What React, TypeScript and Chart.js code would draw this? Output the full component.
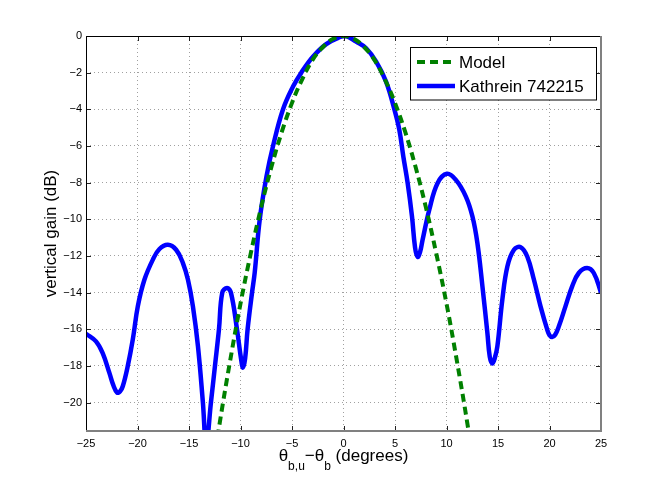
import React, { useEffect, useRef } from "react";
import { Chart, ChartConfiguration, Plugin, registerables } from "chart.js";

Chart.register(...registerables);

// model pattern (dB)
const modelAngles = [-13, -12, -11, -10, -9, -8, -7, -6, -5, -4, -3, -2, -1, 0, 1, 2, 3, 4, 5, 6, 7, 8, 9, 10, 11, 12, 13];
const modelGain = [
  -24.7, -21.05, -17.7, -14.6, -11.85, -9.35, -7.15, -5.25, -3.65, -2.35, -1.3, -0.6, -0.15, 0,
  -0.15, -0.6, -1.3, -2.35, -3.65, -5.25, -7.15, -9.35, -11.85, -14.6, -17.7, -21.05, -24.7,
];

// measured antenna pattern (dB)
const kathreinAngles = [
  -25, -24.03, -23.38, -22.73, -22.35, -21.98, -21.7, -21.43, -20.95, -20.46, -19.97, -19.33,
  -18.51, -17.87, -17.05, -16.25, -15.59, -15.1, -14.62, -14.13, -13.65, -13.33, -12.87, -12.48,
  -12.09, -11.77, -11.31, -10.93, -10.34, -9.95, -9.76, -9.55, -9.31, -8.88, -8.62, -8.13, -7.48,
  -6.84, -5.87, -4.9, -4.1, -2.97, -1.68, -0.39, 0.26, 1.23, 2.2, 3.17, 4.13, 4.94, 5.42, 5.81,
  6.23, 6.65, 6.95, 7.2, 7.45, 7.68, 8.33, 9.13, 10.04, 10.91, 11.88, 12.52, 13.0, 13.49, 13.97,
  14.2, 14.45, 14.7, 14.94, 15.42, 15.91, 16.55, 17.2, 17.84, 18.49, 19.13, 19.78, 20.0, 20.26,
  20.55, 20.91, 21.55, 22.2, 22.84, 23.65, 24.3, 25,
];
const kathreinGain = [
  -16.24, -16.66, -17.3, -18.38, -19.05, -19.45, -19.4, -19.11, -18.02, -16.57, -14.75, -13.3,
  -12.2, -11.62, -11.39, -11.66, -12.39, -13.3, -14.75, -16.93, -20.0, -22.3, -20.0, -18.0,
  -16.0, -14.0, -13.75, -14.0, -16.0, -17.6, -18.1, -17.6, -16.0, -14.0, -12.9, -10.0, -7.67,
  -6.0, -4.0, -2.76, -2.0, -1.13, -0.44, -0.07, 0, -0.31, -0.67, -1.4, -2.49, -4.0, -5.12, -6.58,
  -8.03, -9.85, -11.55, -12.05, -11.75, -11.12, -9.48, -8.03, -7.52, -7.85, -8.76, -9.85, -11.3, -13.66, -16.2,
  -17.5, -17.87, -17.55, -16.93, -14.39, -12.57, -11.66, -11.52, -12.03, -13.3, -14.75, -16.02, -16.32, -16.42,
  -16.3, -15.84, -14.75, -13.66, -12.93, -12.66, -12.93, -14.0,
];

const xTicks = [-25, -20, -15, -10, -5, 0, 5, 10, 15, 20, 25];
const yTicks = [0, -2, -4, -6, -8, -10, -12, -14, -16, -18, -20];
const seriesLabels = ["Model", "Kathrein 742215"];

const FONT = "'Liberation Sans', Arial, sans-serif";
const minus = (v: number) => (v < 0 ? "\u2212" + Math.abs(v) : String(v));

// matlab-like box, inner ticks, legend and axis labels
const axesBox: Plugin = {
  id: "axesBox",
  afterDatasetsDraw(chart) {
    const { ctx, chartArea: a, scales } = chart;
    ctx.save();
    ctx.lineWidth = 1;
    ctx.strokeStyle = "#222";
    ctx.beginPath();
    xTicks.forEach((v) => {
      const px = Math.round(scales.x.getPixelForValue(v)) + 0.5;
      ctx.moveTo(px, a.bottom);
      ctx.lineTo(px, a.bottom - 5);
      ctx.moveTo(px, a.top);
      ctx.lineTo(px, a.top + 5);
    });
    yTicks.forEach((v) => {
      const py = Math.round(scales.y.getPixelForValue(v)) + 0.5;
      ctx.moveTo(a.left, py);
      ctx.lineTo(a.left + 5, py);
      ctx.moveTo(a.right, py);
      ctx.lineTo(a.right - 5, py);
    });
    ctx.stroke();

    ctx.strokeStyle = "#000";
    ctx.beginPath();
    ctx.moveTo(a.left + 0.5, a.bottom);
    ctx.lineTo(a.left + 0.5, a.top + 0.5);
    ctx.lineTo(a.right, a.top + 0.5);
    ctx.stroke();
    ctx.strokeStyle = "#808080";
    ctx.lineWidth = 2;
    ctx.beginPath();
    ctx.moveTo(a.left, a.bottom);
    ctx.lineTo(a.right, a.bottom);
    ctx.lineTo(a.right, a.top);
    ctx.stroke();
    ctx.restore();
  },
  afterDraw(chart) {
    const { ctx, chartArea: a } = chart;
    ctx.save();

    // legend
    ctx.fillStyle = "#fff";
    ctx.fillRect(410, 47, 187, 53);
    ctx.strokeStyle = "#000";
    ctx.lineWidth = 1;
    ctx.strokeRect(410.5, 47.5, 186, 52.5);
    ctx.font = `17px ${FONT}`;
    ctx.textBaseline = "middle";
    ctx.textAlign = "left";
    chart.data.datasets.forEach((ds: any, i) => {
      const y = 62 + i * 24;
      ctx.beginPath();
      ctx.strokeStyle = ds.borderColor;
      ctx.lineWidth = ds.borderWidth;
      ctx.setLineDash(ds.borderDash || []);
      ctx.moveTo(417, y);
      ctx.lineTo(455, y);
      ctx.stroke();
      ctx.setLineDash([]);
      ctx.fillStyle = "#000";
      ctx.fillText(ds.label, 459, y + 1);
    });

    // y label
    ctx.fillStyle = "#000";
    ctx.textBaseline = "alphabetic";
    ctx.textAlign = "center";
    ctx.save();
    ctx.translate(55.5, (a.top + a.bottom) / 2);
    ctx.rotate(-Math.PI / 2);
    ctx.fillText("vertical gain (dB)", 0, 0);
    ctx.restore();

    // x label with subscripts
    const parts: [string, boolean][] = [
      ["\u03b8", false],
      ["b,u", true],
      ["\u2212\u03b8", false],
      ["b", true],
      [" (degrees)", false],
    ];
    const big = `17px ${FONT}`;
    const small = `12px ${FONT}`;
    let total = 0;
    parts.forEach(([t, sub]) => {
      ctx.font = sub ? small : big;
      total += ctx.measureText(t).width;
    });
    let x = (a.left + a.right) / 2 - total / 2;
    ctx.textAlign = "left";
    parts.forEach(([t, sub]) => {
      ctx.font = sub ? small : big;
      ctx.fillText(t, x, sub ? 470 : 461);
      x += ctx.measureText(t).width;
    });
    ctx.restore();
  },
};

const config: ChartConfiguration = {
  type: "line",
  data: {
    datasets: [
      {
        label: seriesLabels[0],
        data: modelAngles.map((x, i) => ({ x, y: modelGain[i] })),
        borderColor: "#008000",
        borderWidth: 4,
        borderDash: [8, 5],
        pointRadius: 0,
        fill: false,
        tension: 0.4,
        clip: 0,
      },
      {
        label: seriesLabels[1],
        data: kathreinAngles.map((x, i) => ({ x, y: kathreinGain[i] })),
        borderColor: "#0000ff",
        borderWidth: 4.5,
        pointRadius: 0,
        fill: false,
        tension: 0.4,
        clip: 0,
      },
    ],
  },
  options: {
    responsive: false,
    animation: false,
    layout: {
      padding: { left: 0, top: 36, right: 63, bottom: 0 },
    },
    plugins: {
      legend: { display: false },
      tooltip: { enabled: false },
      title: { display: false },
    },
    scales: {
      x: {
        type: "linear",
        min: -25,
        max: 25,
        afterBuildTicks: (scale) => {
          scale.ticks = xTicks.map((value) => ({ value }));
        },
        afterFit: (scale) => {
          scale.height = 55;
        },
        ticks: {
          color: "#000",
          font: { family: FONT, size: 11 },
          padding: 6,
          maxRotation: 0,
          callback: (v) => minus(Number(v)),
        },
        grid: {
          color: "#a0a0a0",
          drawTicks: false,
          lineWidth: 1,
        },
        border: { display: false, dash: [1, 3] },
      },
      y: {
        type: "linear",
        min: -21.55,
        max: 0,
        afterBuildTicks: (scale) => {
          scale.ticks = yTicks.map((value) => ({ value }));
        },
        afterFit: (scale) => {
          scale.width = 86;
        },
        ticks: {
          color: "#000",
          font: { family: FONT, size: 11 },
          padding: 4,
          callback: (v) => minus(Number(v)),
        },
        grid: {
          color: "#a0a0a0",
          drawTicks: false,
          lineWidth: 1,
        },
        border: { display: false, dash: [1, 3] },
      },
    },
  },
  plugins: [axesBox],
};

export default function App() {
  const chartRef = useRef<HTMLCanvasElement | null>(null);

  useEffect(() => {
    if (!chartRef.current) {
      return;
    }
    const chartInstance = new Chart(chartRef.current, config);
    return () => {
      chartInstance.destroy();
    };
  }, [chartRef]);

  return (
    <div style={{ position: "absolute", left: 0, top: 0, width: 664, height: 486, background: "#fff" }}>
      <canvas ref={chartRef} width={664} height={486}></canvas>
    </div>
  );
}
